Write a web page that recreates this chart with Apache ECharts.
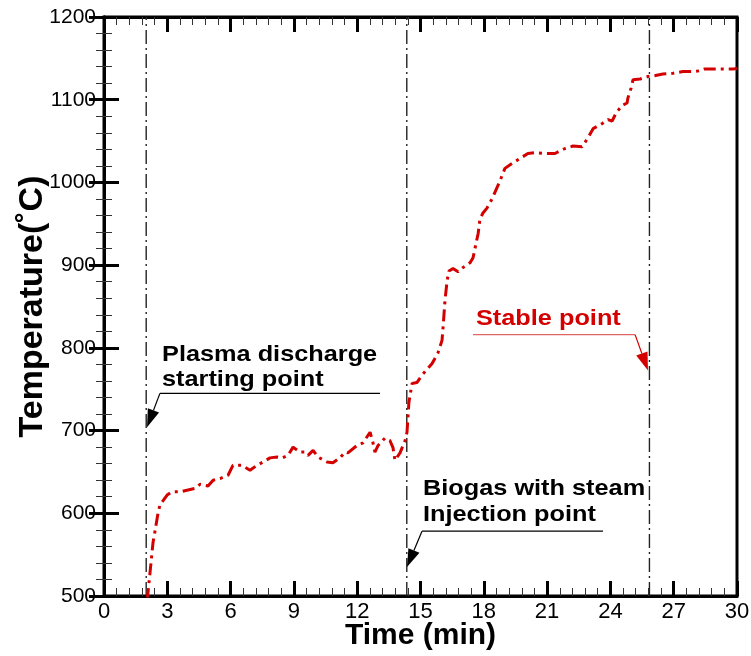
<!DOCTYPE html>
<html>
<head>
<meta charset="utf-8">
<script src="https://cdn.jsdelivr.net/npm/echarts@6/dist/echarts.min.js"></script>
<style>html,body{margin:0;padding:0;background:#fff;}#c{width:751px;height:656px;}</style>
</head>
<body>
<div id="c"></div>
<script>
// ---- data ----
const timeMin = [2.05,2.18,2.32,2.56,2.65,2.99,3.22,3.60,4.31,4.55,4.93,5.17,5.50,5.88,6.11,6.54,6.92,7.25,7.54,7.87,8.20,8.44,8.72,8.96,9.29,9.53,9.67,9.91,10.14,10.57,10.85,11.18,11.42,11.56,11.99,12.27,12.61,12.75,12.84,12.99,13.32,13.55,13.70,13.79,14.03,14.27,14.36,14.45,14.60,14.83,15.07,15.55,15.83,16.02,16.07,16.16,16.26,16.35,16.54,16.78,17.01,17.35,17.49,17.63,17.73,17.82,17.96,18.15,18.39,18.63,18.77,19.00,19.34,19.72,20.09,20.43,20.90,21.37,21.85,22.23,22.65,22.94,23.18,23.60,23.89,24.08,24.27,24.55,24.79,24.83,24.98,25.07,25.40,25.78,26.07,26.49,26.97,27.44,27.87,28.25,28.44,28.86,29.29,29.81,30.0];
const temperature = [495,528,564,600,610,622,626,626,630,635,633,640,642,646,658,658,652,658,662,667,668,667,670,680,674,674,670,676,668,662,661,667,674,673,682,685,698,685,674,682,691,688,679,664,673,688,698,734,757,758,767,781,794,809,825,857,881,893,896,892,897,903,909,926,938,956,963,969,980,994,1002,1017,1023,1029,1035,1036,1035,1035,1041,1044,1043,1054,1065,1071,1076,1074,1084,1093,1096,1102,1114,1124,1125,1128,1129,1131,1132,1134,1134,1135,1137,1137,1137,1137,1138];
const eventTimes = [2.0, 14.35, 25.85];
const xTicks = {min:0, max:30, interval:3};
const yTicks = {min:500, max:1200, interval:100};
const annotations = [
  {lines:['Plasma discharge','starting point'], color:'#000', lineColor:'#000', textX:2.75, textY:[791,761], underY:745, underFrom:13.08, underTo:2.65, tip:[2.04,704]},
  {lines:['Biogas with steam','Injection point'], color:'#000', lineColor:'#000', textX:15.12, textY:[630,598], underY:578.4, underFrom:23.65, underTo:15.07, tip:[14.36,535]},
  {lines:['Stable point'], color:'#d40000', lineColor:'#e06666', textX:17.63, textY:[835.5], underY:816, underFrom:17.49, underTo:25.17, tip:[25.78,772.7], leaderColor:'#d40000'}
];
// ---- chart ----
const FONT = '"Liberation Sans", Arial, Helvetica, sans-serif';
const chart = echarts.init(document.getElementById('c'), null, {renderer:'canvas'});
const series = [{
  type:'line', data: timeMin.map((t,i)=>[t, temperature[i]]), showSymbol:false, clip:true,
  lineStyle:{color:'#d40000', width:3, type:[12,5,3,5]}, z:5
}];
eventTimes.forEach(t=>{
  series.push({type:'line', data:[[t,yTicks.min],[t,yTicks.max]], showSymbol:false, silent:true,
    lineStyle:{color:'#222', width:1.4, type:[14,4,2,4]}, z:3});
});
const tickCommon = {show:true, inside:true, length:15, lineStyle:{color:'#000', width:3}};
const minorCommon = {show:true, splitNumber:5, length:8, lineStyle:{color:'#333', width:1}};
chart.setOption({
  animation:false,
  backgroundColor:'#fff',
  grid:{left:104, right:14, top:17, bottom:60, containLabel:false, outerBoundsMode:'none', show:true, borderColor:'#000', borderWidth:3, backgroundColor:'transparent'},
  xAxis:[{
    type:'value', min:xTicks.min, max:xTicks.max, interval:xTicks.interval,
    axisLine:{show:true, lineStyle:{color:'#000', width:3}},
    axisTick:tickCommon, minorTick:minorCommon, splitLine:{show:false},
    axisLabel:{color:'#000', fontSize:22, fontFamily:FONT, margin:5, formatter:v=>String(v)},
    name:'Time (min)', nameLocation:'middle', nameGap:40, nameMoveOverlap:false,
    nameTextStyle:{color:'#000', fontSize:30, fontWeight:'bold', fontFamily:FONT, verticalAlign:'middle'}
  },{
    type:'value', position:'top', min:xTicks.min, max:xTicks.max, interval:xTicks.interval,
    axisLine:{show:true, lineStyle:{color:'#000', width:3}},
    axisTick:tickCommon, minorTick:minorCommon, splitLine:{show:false}, axisLabel:{show:false}
  }],
  yAxis:[{
    type:'value', min:yTicks.min, max:yTicks.max, interval:yTicks.interval,
    axisLine:{show:true, lineStyle:{color:'#000', width:3}},
    axisTick:tickCommon, minorTick:minorCommon, splitLine:{show:false},
    axisLabel:{color:'#000', fontSize:21, fontFamily:FONT, margin:8, formatter:v=>String(v)},
    name:'Temperature(˚C)', nameLocation:'middle', nameGap:54, nameMoveOverlap:false,
    nameTextStyle:{color:'#000', fontSize:34, fontWeight:'bold', fontFamily:FONT}
  },{
    type:'value', position:'right', min:yTicks.min, max:yTicks.max, interval:yTicks.interval,
    axisLine:{show:true, lineStyle:{color:'#000', width:3}},
    axisTick:tickCommon, minorTick:minorCommon, splitLine:{show:false}, axisLabel:{show:false}
  }],
  series: series
});
// ---- annotations (positioned in data coordinates) ----
const px = (t,v)=>chart.convertToPixel({xAxisIndex:0, yAxisIndex:0}, [t,v]);
const graphics = [];
annotations.forEach(a=>{
  a.lines.forEach((ln,i)=>{
    const p = px(a.textX, a.textY[i]);
    graphics.push({type:'text', x:p[0], y:p[1], scaleX:1.15, z:20,
      style:{text:ln, x:0, y:0, fill:a.color, font:'bold 22px '+FONT, verticalAlign:'middle', align:'left'}});
  });
  const u0 = px(a.underFrom, a.underY), u1 = px(a.underTo, a.underY), tip = px(a.tip[0], a.tip[1]);
  graphics.push({type:'line', z:20, shape:{x1:u0[0], y1:u0[1], x2:u1[0], y2:u1[1]}, style:{stroke:a.lineColor, lineWidth:1.2}});
  const lc = a.leaderColor || a.lineColor;
  const dx = tip[0]-u1[0], dy = tip[1]-u1[1], L = Math.hypot(dx,dy), ux = dx/L, uy = dy/L;
  const hl = 18, hw = 6;
  const bx = tip[0]-ux*hl, by = tip[1]-uy*hl;
  graphics.push({type:'line', z:20, shape:{x1:u1[0], y1:u1[1], x2:bx, y2:by}, style:{stroke:lc, lineWidth:1.2}});
  graphics.push({type:'polygon', z:20, shape:{points:[[tip[0],tip[1]],[bx-uy*hw, by+ux*hw],[bx+uy*hw, by-ux*hw]]}, style:{fill:lc}});
});
chart.setOption({graphic:graphics});
</script>
</body>
</html>
